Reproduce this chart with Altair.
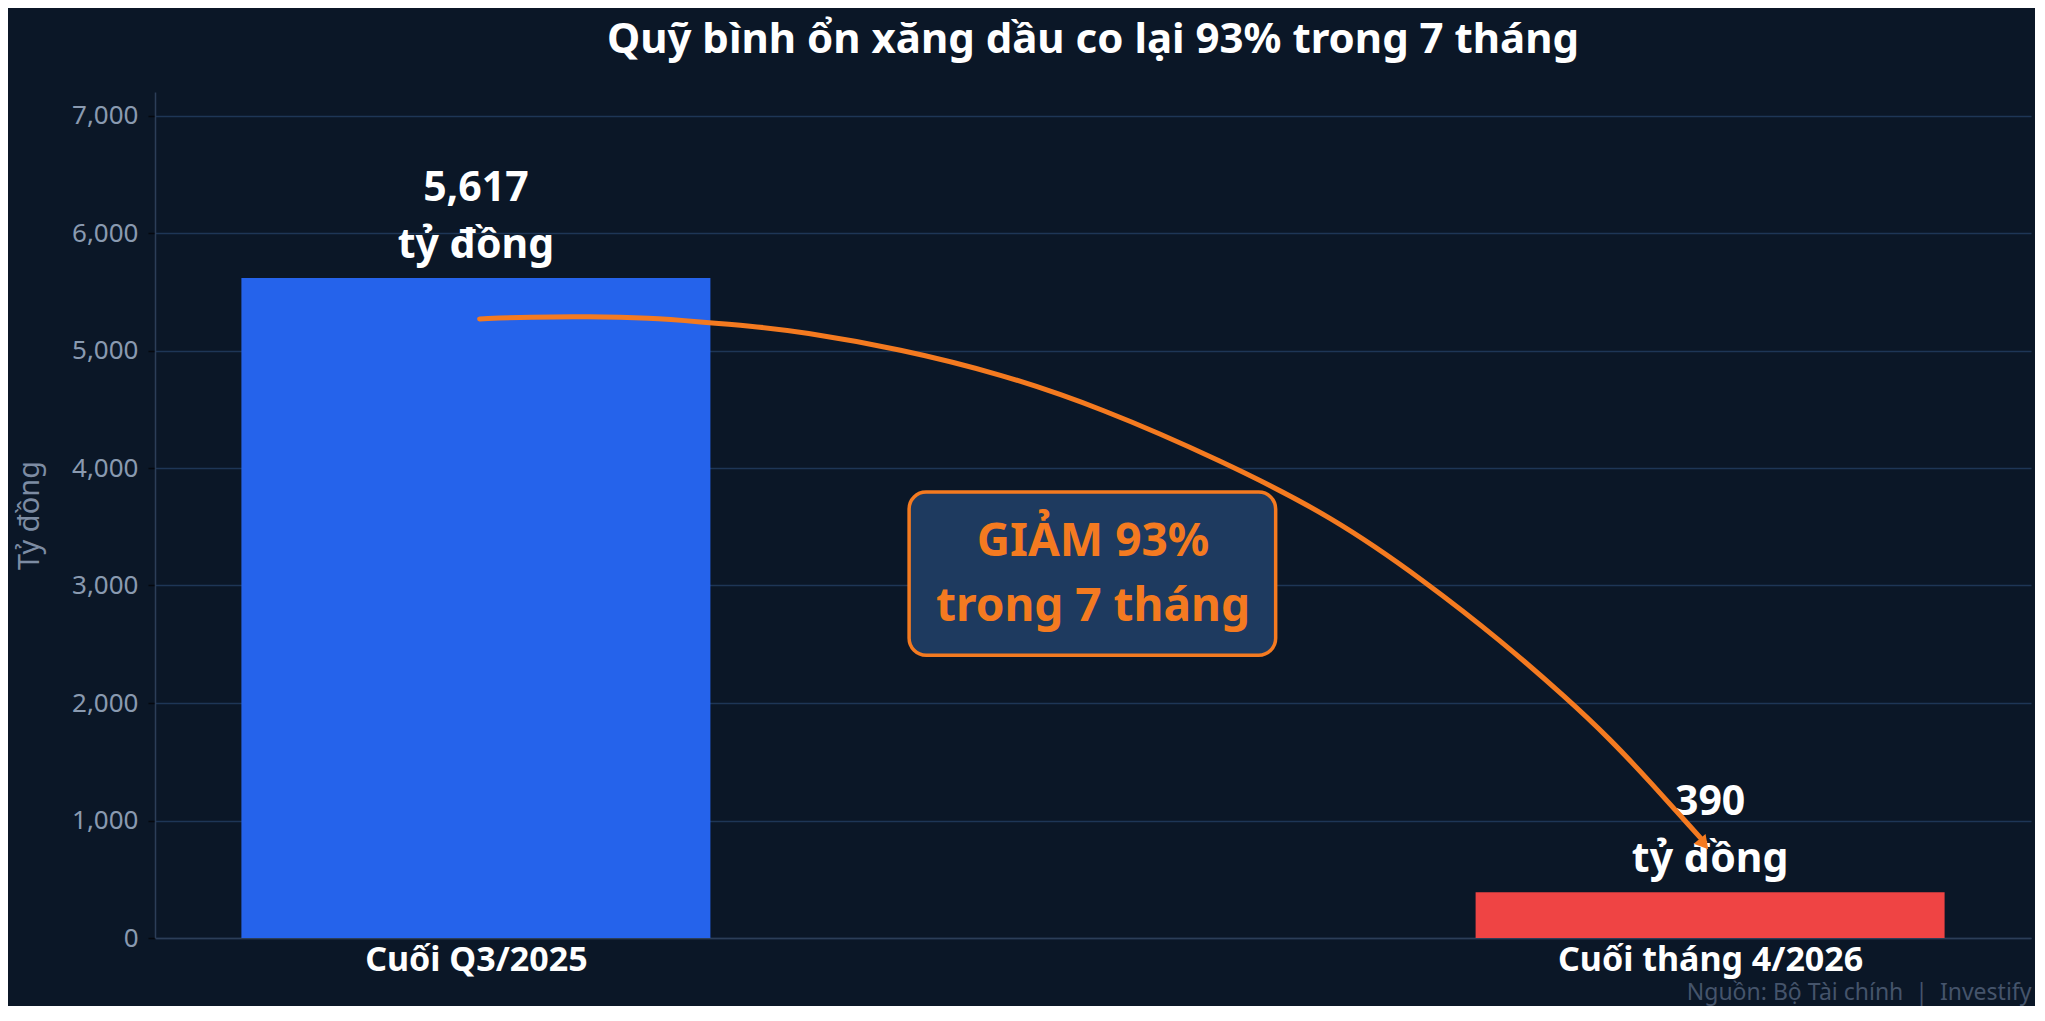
import json
import altair as alt
import pandas as pd

# ---------------- data ----------------
categories = ["Cuối Q3/2025", "Cuối tháng 4/2026"]
positions = [0, 1]
values = [5617, 390]
bar_colors = ["#2563eb", "#ef4444"]
unit_label = "tỷ đồng"

y_ticks = [0, 1000, 2000, 3000, 4000, 5000, 6000, 7000]
y_domain = [0, 7200]
x_domain = [-0.26, 1.26]

# curved arrow path (x in category units, y in tỷ đồng)
arrow_x = [0.003, 0.044, 0.091, 0.141, 0.182, 0.222, 0.263, 0.344, 0.425,
           0.506, 0.603, 0.695, 0.771, 0.830, 0.884, 0.919, 0.951, 0.992]
arrow_y = [5269, 5286, 5290, 5277, 5243, 5209, 5162, 5013, 4802,
           4513, 4068, 3582, 3020, 2535, 2040, 1692, 1334, 854]
arrow_head_x = [0.995]
arrow_head_y = [800]

note_text = "GIẢM 93%\ntrong 7 tháng"
note_x = [0.5]
note_y = [3100]
note_box_x = [0.351, 0.648]
note_box_y = [2407, 3795]

title_text = "Quỹ bình ổn xăng dầu co lại 93% trong 7 tháng"
y_title = "Tỷ đồng"
source_text = "Nguồn: Bộ Tài chính\u00a0\u00a0|\u00a0\u00a0Investify"

# ---------------- style ----------------
FONT = "Noto Sans"
BG = "#0b1727"
GRID = "#1e3656"
SPINE = "#2c3e58"
MUTED = "#8a9ab0"
ORANGE = "#f47a20"
BOX_FILL = "#1e3a5f"

PLOT_W, PLOT_H = 1876, 846

bars_df = pd.DataFrame({"pos": positions, "value": values,
                        "category": categories, "color": bar_colors})
arrow_df = pd.DataFrame({"x": arrow_x, "y": arrow_y})
head_df = pd.DataFrame({"x": arrow_head_x, "y": arrow_head_y})
note_df = pd.DataFrame({"x": note_x, "y": note_y, "text": [note_text]})
box_df = pd.DataFrame({"x0": [note_box_x[0]], "x1": [note_box_x[1]],
                       "y0": [note_box_y[0]], "y1": [note_box_y[1]]})

label_expr = json.dumps(categories, ensure_ascii=False) + "[round(datum.value)]"

x_scale = alt.Scale(domain=x_domain, nice=False, zero=False, padding=0)
y_scale = alt.Scale(domain=y_domain, nice=False, padding=0)

x_axis = alt.Axis(
    values=positions, labelExpr=label_expr, labelFont=FONT, labelFontSize=34,
    labelFontWeight="bold", labelColor="#ffffff", ticks=False, grid=False,
    domain=True, domainColor=SPINE, domainWidth=1.5, labelPadding=5,
    labelFlush=False, labelOverlap=False, labelLimit=0,
    title=source_text, titleFont=FONT, titleFontSize=23, titleFontWeight="normal",
    titleColor="#45546b", titleAnchor="end", titleAlign="right",
    titleX=PLOT_W, titleY=61, titleBaseline="alphabetic", titleLimit=0,
)
y_axis = alt.Axis(
    values=y_ticks, labelExpr="format(datum.value, ',')",
    labelFont=FONT, labelFontSize=26, labelColor=MUTED,
    tickColor="#05080f", tickSize=7, tickWidth=1.5, labelPadding=10,
    grid=True, gridColor=GRID, gridWidth=1.5,
    domain=True, domainColor=SPINE, domainWidth=1.5,
    title=y_title, titleFont=FONT, titleFontSize=29, titleFontWeight="normal",
    titleColor="#7d8ca3", titlePadding=27,
)

base = alt.Chart(bars_df)

bars = base.mark_bar(width=469).encode(
    x=alt.X("pos:Q", scale=x_scale, axis=x_axis),
    y=alt.Y("value:Q", scale=y_scale, axis=y_axis),
    color=alt.Color("color:N", scale=None),
)

labels = base.transform_calculate(
    label="format(datum.value, ',') + '\\n" + unit_label + "'"
).mark_text(
    font=FONT, fontSize=41, fontWeight="bold", color="#ffffff",
    baseline="bottom", align="center", lineBreak="\n", lineHeight=57, dy=-68,
).encode(x="pos:Q", y="value:Q", text="label:N")

box = alt.Chart(box_df).mark_rect(
    cornerRadius=17, fill=BOX_FILL, stroke=ORANGE, strokeWidth=3.5,
).encode(x="x0:Q", x2="x1:Q", y="y0:Q", y2="y1:Q")

note = alt.Chart(note_df).mark_text(
    font=FONT, fontSize=46, fontWeight="bold", color=ORANGE,
    baseline="middle", align="center", lineBreak="\n", lineHeight=65, dy=-32,
).encode(x="x:Q", y="y:Q", text="text:N")

arrow = alt.Chart(arrow_df).mark_line(
    color=ORANGE, strokeWidth=5, interpolate="basis", strokeCap="round",
).encode(x="x:Q", y="y:Q")

head = alt.Chart(head_df).mark_point(
    shape="triangle-up", filled=True, color=ORANGE, opacity=1, size=240, angle=140,
).encode(x="x:Q", y="y:Q")

chart = alt.layer(bars, labels, box, note, arrow, head).properties(
    width=PLOT_W,
    height=PLOT_H,
    background=BG,
    autosize=alt.AutoSizeParams(type="none"),
    padding={"left": 147, "top": 84, "right": 4, "bottom": 68},
    title=alt.TitleParams(
        text=title_text, font=FONT, fontSize=42, fontWeight="bold",
        color="#ffffff", anchor="middle", offset=30,
    ),
).configure_view(stroke=None)

chart.save("out.html", embed_options={"renderer": "svg", "actions": False})
